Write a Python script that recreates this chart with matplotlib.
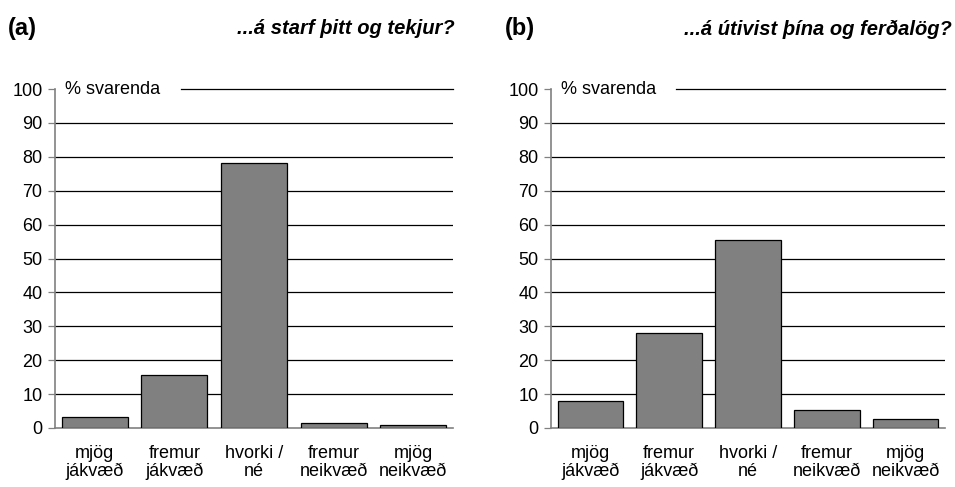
import matplotlib.pyplot as plt
import numpy as np

plt.rcParams['font.family'] = ['Liberation Sans', 'DejaVu Sans']

categories = ["mjög\njákvæð", "fremur\njákvæð", "hvorki /\nné", "fremur\nneikvæð", "mjög\nneikvæð"]
values_a = [3.3, 15.6, 78.2, 1.6, 1.0]
values_b = [7.9, 28.0, 55.6, 5.4, 2.7]
panel_labels = ["(a)", "(b)"]
titles = ["...á starf þitt og tekjur?", "...á útivist þína og ferðalög?"]
yticks = list(range(0, 101, 10))
ylabel = "% svarenda"

fig = plt.figure(figsize=(9.55, 4.87), dpi=100)
W, H = 955, 487
boxes = [(55, 453), (551, 945)]
y0, y100 = 428, 89
FS = 13

for i, (vals, (xl, xr)) in enumerate(zip([values_a, values_b], boxes)):
    ax = fig.add_axes([xl / W, 1 - y0 / H, (xr - xl) / W, (y0 - y100) / H])
    x = np.arange(len(categories))
    ax.set_xlim(-0.5, len(categories) - 0.5)
    ax.set_ylim(0, 100)
    for t in yticks[1:]:
        if t == 100:
            ax.plot([-0.5 + 1.58, len(categories) - 0.5], [t, t], color='black', lw=0.9, zorder=1, clip_on=False)
        else:
            ax.axhline(t, color='black', lw=0.9, zorder=1)
    ax.bar(x, vals, width=0.83, color='#808080', edgecolor='black', linewidth=0.9, zorder=3)
    ax.set_yticks(yticks)
    ax.set_yticklabels([str(t) for t in yticks], fontsize=FS)
    ax.tick_params(axis='y', length=5, width=0.9, color='#808080', pad=4)
    ax.set_xticks(x)
    ax.set_xticklabels(categories, fontsize=FS, linespacing=1.1)
    ax.tick_params(axis='x', length=0, pad=12)
    for s in ['top', 'right']:
        ax.spines[s].set_visible(False)
    ax.spines['left'].set_color('#808080')
    ax.spines['left'].set_linewidth(1.2)
    ax.spines['bottom'].set_color('#808080')
    ax.spines['bottom'].set_linewidth(1.2)
    ax.text(-0.37, 100, ylabel, fontsize=FS, va='center', ha='left', zorder=5)
    fig.text((8 if i == 0 else 505) / W, 1 - 29 / H, panel_labels[i],
             fontsize=17, fontweight='bold', va='center', ha='left')
    fig.text((455 if i == 0 else 952) / W, 1 - 29 / H, titles[i], fontsize=14.5,
             fontweight='bold', fontstyle='italic', va='center', ha='right')

fig.savefig('out.png', dpi=100)
